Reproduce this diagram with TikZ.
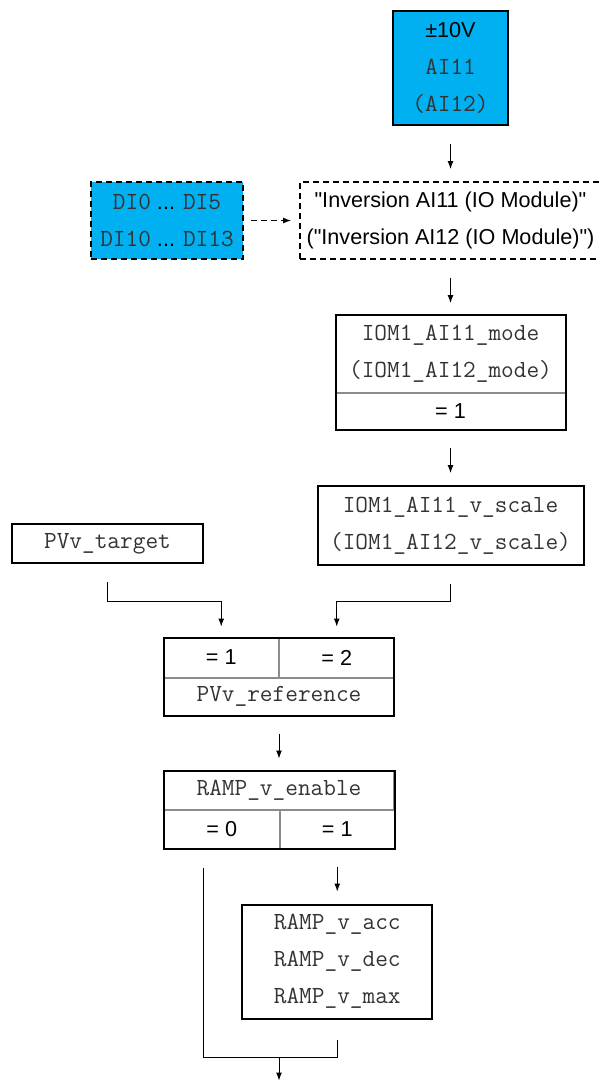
\documentclass[tikz,border=0pt]{standalone}
\usepackage{fontspec}
\setmainfont{Liberation Sans}[Ligatures=TeXOff]
\usetikzlibrary{positioning,arrows.meta}
\definecolor{sigblue}{RGB}{0,176,240}
\newcommand{\cd}[1]{{\ttfamily\fontsize{12.3}{18.5}\selectfont\color{black!80}#1}}

\begin{document}
\begin{tikzpicture}[
  x=0.5pt, y=-0.5pt,
  node distance=27.5pt,
  font={\fontsize{10.8}{18.5}\selectfont},
  box/.style={draw, line width=1pt, inner sep=0pt, align=center},
  dbox/.style={box, dash pattern=on 3pt off 2pt},
  cell/.style={draw=black!45, line width=0.5pt, inner sep=0pt, align=center},
  frame/.style={draw, line width=1pt},
  arrow/.style={-{Latex[length=4pt,width=3pt]}, line width=0.5pt, shorten <=9pt, shorten >=6pt},
  line/.style={line width=0.5pt}
]
\useasboundingbox (0,0) rectangle (600,1084);

\node[box, fill=sigblue, minimum width=57.5pt, minimum height=57pt](src) at (450.5,68)
  {±10V\\\cd{AI11}\\\cd{(AI12)}};
\node[dbox, minimum width=150.5pt, minimum height=38.5pt, below=of src](inv)
  {"Inversion AI11 (IO Module)"\\("Inversion AI12 (IO Module)")};
\node[dbox, fill=sigblue, minimum width=76pt, minimum height=38.5pt, left=of inv](di)
  {\cd{DI0} ... \cd{DI5}\\\cd{DI10} ... \cd{DI13}};

% mode selection
\node[cell, minimum width=114.5pt, minimum height=38.5pt, below=of inv](mode)
  {\cd{IOM1\_AI11\_mode}\\\cd{(IOM1\_AI12\_mode)}};
\node[cell, minimum width=114.5pt, minimum height=18pt, below=0pt of mode](modeval){= 1};
\draw[frame] (mode.north west) rectangle (modeval.south east);

\node[box, minimum width=133pt, minimum height=39.5pt, below=of modeval](vscale)
  {\cd{IOM1\_AI11\_v\_scale}\\\cd{(IOM1\_AI12\_v\_scale)}};
\node[box, minimum width=95.5pt, minimum height=19.5pt](target) at (107.5,543.5)
  {\cd{PVv\_target}};

% reference selection
\node[cell, minimum width=57.25pt, minimum height=19.5pt](refone) at (221.25,657.5){= 1};
\node[cell, minimum width=57.25pt, minimum height=19.5pt, right=0pt of refone](reftwo){= 2};
\node[cell, minimum width=114.5pt, minimum height=18.5pt, below=0pt of refone.south east](refname)
  {\cd{PVv\_reference}};
\draw[frame] (refone.north west) rectangle (refname.south east);

% ramp
\node[cell, minimum width=114.5pt, minimum height=19pt, below=of refname](enname)
  {\cd{RAMP\_v\_enable}};
\node[cell, minimum width=57.25pt, minimum height=19pt, below right=0pt and 0pt of enname.south west](enzero){= 0};
\node[cell, minimum width=57.25pt, minimum height=19pt, right=0pt of enzero](enone){= 1};
\draw[frame] (enname.north west) rectangle (enone.south east);

\node[box, minimum width=95pt, minimum height=57pt, below=of enone](ramp)
  {\cd{RAMP\_v\_acc}\\\cd{RAMP\_v\_dec}\\\cd{RAMP\_v\_max}};
\coordinate[below=19pt of ramp.south](merge);

\draw[arrow] (src)--(inv);
\draw[arrow, dash pattern=on 3pt off 2pt, shorten <=3.5pt, shorten >=4pt] (di)--(inv);
\draw[arrow] (inv)--(mode);
\draw[arrow] (modeval)--(vscale);
\draw[arrow, shorten >=5.5pt] (target.south) -- ++(0,37) -| (refone.north);
\draw[arrow, shorten >=5.5pt] (vscale.south) -- ++(0,35) -| (reftwo.north);
\draw[arrow] (refname)--(enname);
\draw[arrow] (enone)--(ramp);
\draw[line] ([xshift=-9pt,yshift=-9.5pt]enzero.south) |- (merge) -- ([yshift=-10pt]ramp.south);
\draw[arrow, shorten <=0pt, shorten >=0pt] (merge -| enname.south) -- ++(0,23);
\end{tikzpicture}
\end{document}
